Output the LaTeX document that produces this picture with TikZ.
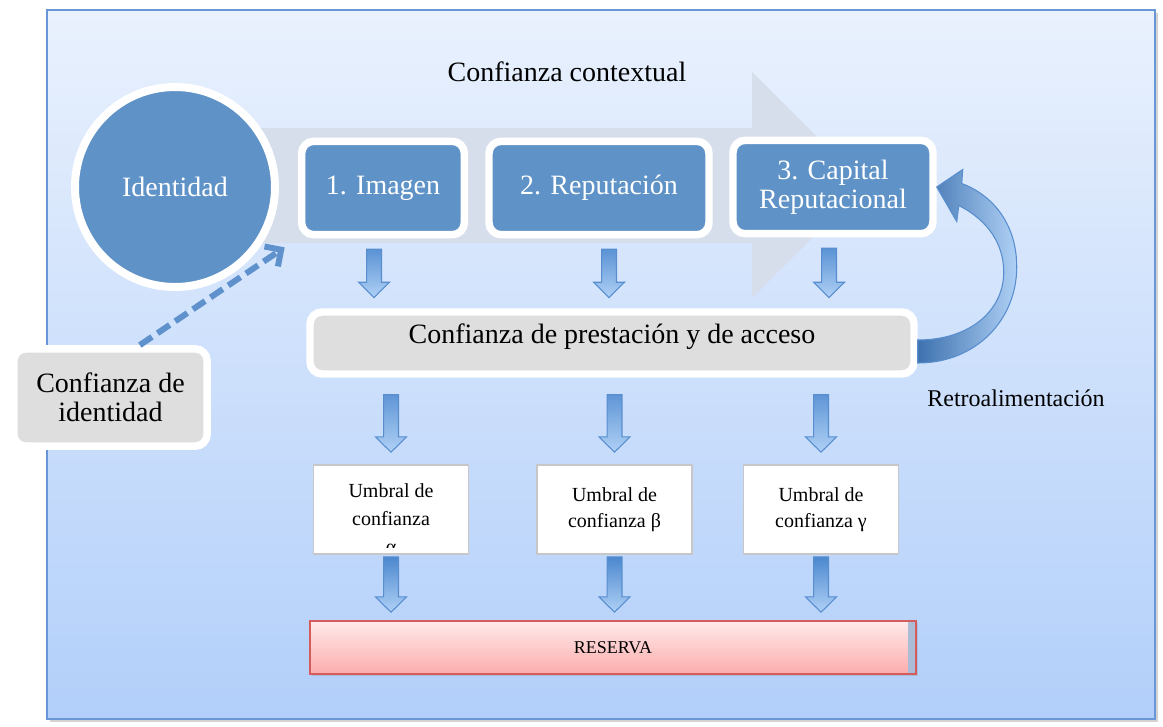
\documentclass[tikz,border=0pt]{standalone}
\usepackage{fontspec}
\setmainfont{Liberation Serif}
\usetikzlibrary{calc,shadows,arrows.meta}

\definecolor{bgtop}{RGB}{233,241,253}
\definecolor{bgbottom}{RGB}{178,207,250}
\definecolor{frameblue}{RGB}{105,150,215}
\definecolor{boxblue}{RGB}{95,147,199}
\definecolor{arrowgray}{RGB}{214,222,235}
\definecolor{bargray}{RGB}{222,222,222}
\definecolor{arrowtop}{RGB}{72,133,205}
\definecolor{arrowbottom}{RGB}{175,208,245}
\definecolor{arrowline}{RGB}{88,142,208}
\definecolor{dashblue}{RGB}{95,145,205}
\definecolor{pinktop}{RGB}{255,234,234}
\definecolor{pinkbottom}{RGB}{252,172,172}
\definecolor{pinkline}{RGB}{212,92,92}
\definecolor{stripgray}{RGB}{172,188,215}

\begin{document}
\begin{tikzpicture}[x=0.75pt, y=-0.75pt,
  sombra/.style={drop shadow={opacity=0.25, shadow xshift=1.2pt, shadow yshift=-1.5pt}},
  bluebox/.style={draw=white, line width=5.6pt, fill=boxblue, rounded corners=9pt, text=white,
    font=\fontsize{21}{22}\selectfont, align=center, minimum height=70pt, inner sep=0pt, sombra},
  graybox/.style={draw=white, line width=5.6pt, fill=bargray, rounded corners=9pt,
    font=\fontsize{21}{22}\selectfont, align=center, inner sep=0pt, sombra},
  umbral/.style={draw=black!22, line width=1.2pt, fill=white, font=\fontsize{15}{19.5}\selectfont,
    align=center, minimum width=116pt, minimum height=66.75pt, inner sep=0pt},
  downarrow/.style={draw=arrowline, line width=0.8pt, top color=arrowtop, bottom color=arrowbottom},
  blockarrow/.style 2 args={to path={let \p1=(\tikztostart), \p2=(\tikztotarget) in
    (\x1-5.6pt,\y1-#1) -- (\x1+5.6pt,\y1-#1) -- (\x1+5.6pt,\y2+#2+11.5pt) -- (\x1+11.6pt,\y2+#2+11.5pt)
    -- (\x1,\y2+#2) -- (\x1-11.6pt,\y2+#2+11.5pt) -- (\x1-5.6pt,\y2+#2+11.5pt) -- cycle}},
  retroarrow/.style={draw=arrowline, line width=0.8pt, left color=arrowtop!85!black, right color=arrowbottom}
]
\useasboundingbox (0,0) rectangle (1163,726);

% Frame
\node[draw=frameblue, line width=1.2pt, top color=bgtop, bottom color=bgbottom, minimum width=831pt,
  minimum height=531.75pt, inner sep=0pt,
  drop shadow={opacity=0.35, shadow xshift=2pt, shadow yshift=-2pt}] (marco) at (601,364.5) {};

% Big arrow behind
\fill[arrowgray] (200,128) -- (752,128) -- (752,72) -- (865,185) -- (752,298) -- (752,243) -- (200,243) -- cycle;
\node[font=\fontsize{21}{24}\selectfont] (titulo) at (567,72) {Confianza contextual};

% Top row
\node[circle, draw=white, line width=6pt, fill=boxblue, minimum size=150pt, inner sep=0pt, text=white,
  font=\fontsize{21}{24}\selectfont, sombra] (identidad) at (175,187) {Identidad};
\node[bluebox, minimum width=122pt] (imagen) at (383,188) {1. Imagen};
\node[bluebox, minimum width=165pt] (reputacion) at (599,188) {2. Reputación};
\node[bluebox, minimum width=150pt] (capital) at (833,187) {3. Capital\\Reputacional};

% Access bar
\node[graybox, minimum width=453pt, minimum height=46.5pt, text height=12pt, text depth=12pt,
  path picture={\fill[black!22] ([xshift=-2.5pt]path picture bounding box.north east)
    rectangle (path picture bounding box.south east);}] (prestacion) at (612,343)
  {Confianza de prestación y de acceso};

% Identity trust
\node[graybox, minimum width=145pt, minimum height=73pt] (idconf) at (110.5,397.5) {Confianza de\\identidad};

% Thresholds
\node[umbral, path picture={
    \clip (path picture bounding box.north west) rectangle ([yshift=5.25pt]path picture bounding box.south east);
    \node[anchor=north, align=center, inner sep=0pt, font=\fontsize{15}{21}\selectfont]
      (textoalfa) at ([yshift=-6.5pt]path picture bounding box.north) {Umbral de\\confianza\\α};}]
  (ualfa) at (391,509.5) {};
\node[umbral] (ubeta) at (614.5,509.5) {Umbral de\\confianza β};
\node[umbral] (ugamma) at (821,509.5) {Umbral de\\confianza γ};

% Reserve
\node[draw=pinkline, line width=1.2pt, top color=pinktop, bottom color=pinkbottom, minimum width=454.5pt,
  minimum height=39.75pt, font=\fontsize{13.5}{16}\selectfont, sombra,
  path picture={\fill[stripgray] ([xshift=-6pt]path picture bounding box.north east)
    rectangle (path picture bounding box.south east);}] (reserva) at (613,647.5) {RESERVA};

% Down arrows
\draw[downarrow] ([xshift=-6.75pt]imagen.south) to[blockarrow={8pt}{8pt}] (prestacion.north);
\draw[downarrow] ([xshift=7.5pt]reputacion.south) to[blockarrow={8pt}{8pt}] (prestacion.north);
\draw[downarrow] ([xshift=-3pt]capital.south) to[blockarrow={8pt}{8pt}] (prestacion.north);

\draw[downarrow] (prestacion.south -| ualfa.north) to[blockarrow={12.75pt}{9pt}] (ualfa.north);
\draw[downarrow] (prestacion.south -| ubeta.north) to[blockarrow={12.75pt}{9pt}] (ubeta.north);
\draw[downarrow] (prestacion.south -| ugamma.north) to[blockarrow={12.75pt}{9pt}] (ugamma.north);

\draw[downarrow] (ualfa.south) to[blockarrow={1.5pt}{6pt}] (reserva.north);
\draw[downarrow] (ubeta.south) to[blockarrow={1.5pt}{6pt}] (reserva.north);
\draw[downarrow] (ugamma.south) to[blockarrow={1.5pt}{6pt}] (reserva.north);

% Feedback
\draw[retroarrow] ([shift={(0,20)}]prestacion.east) .. controls +(58,0) and +(0,53) .. ([shift={(99,-76)}]prestacion.east)
  .. controls +(0,-42) and +(32,12) .. ([shift={(25,-3.5)}]capital.east) -- ([shift={(26,-17.5)}]capital.east)
  -- (capital.east) -- ([shift={(20,34.5)}]capital.east) -- ([shift={(22,18.5)}]capital.east)
  .. controls +(30,15) and +(0,-27) .. ([shift={(86,-71)}]prestacion.east)
  .. controls +(0,38) and +(53,0) .. ([shift={(0,-3)}]prestacion.east) -- cycle;
\node[font=\fontsize{18}{21}\selectfont] (retro) at (1016,398) {Retroalimentación};

% Dashed link
\draw[dashblue, line width=4.5pt, dash pattern=on 11pt off 5pt, shorten >=12pt,
  -{Straight Barb[length=9pt, width=18pt]}] ([xshift=22pt]idconf.north) -- (imagen.south west);
\end{tikzpicture}
\end{document}
